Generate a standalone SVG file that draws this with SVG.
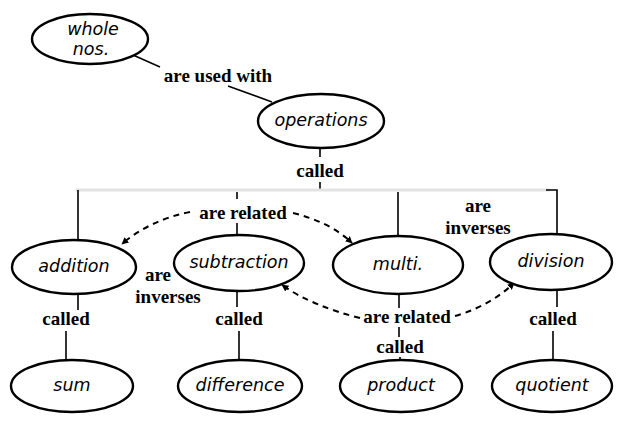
<svg xmlns="http://www.w3.org/2000/svg" width="618" height="421" viewBox="0 0 618 421">
<style>
.node ellipse{fill:#fff;stroke:#000;stroke-width:2.4}
.node text{font-family:"DejaVu Sans","Liberation Sans",sans-serif;font-style:italic;font-size:17.5px;fill:#000;text-anchor:middle}
.lbl{font-family:"Liberation Serif","DejaVu Serif",serif;font-weight:bold;font-size:19px;fill:#000;text-anchor:middle}
.ln{stroke:#000;stroke-width:1.6;fill:none}
.faint{stroke:#e2e2e2;stroke-width:3;fill:none}
.dash{stroke:#000;stroke-width:2;fill:none;stroke-dasharray:6 5}
</style>
<defs>
<marker id="ah" viewBox="0 0 10 10" refX="9" refY="5" markerWidth="7" markerHeight="7" orient="auto" markerUnits="userSpaceOnUse">
<path d="M0,0 L10,5 L0,10 z" fill="#000"/>
</marker>
</defs>
<rect width="618" height="421" fill="#fff"/>
<g id="connectors">
<line class="ln" x1="133" y1="55" x2="160" y2="67"/>
<line class="ln" x1="228" y1="86" x2="272" y2="102"/>
<line class="ln" x1="320" y1="147" x2="320" y2="157"/>
<line class="ln" x1="320" y1="182" x2="320" y2="190"/>
<line class="faint" x1="76" y1="190" x2="550" y2="190"/>
<polyline class="ln" points="546,190 557,190 557,234"/>
<line class="ln" x1="78" y1="190" x2="78" y2="240"/>
<line class="ln" x1="237" y1="192" x2="237" y2="199"/>
<line class="ln" x1="237" y1="223" x2="237" y2="235"/>
<line class="ln" x1="398" y1="192" x2="398" y2="236"/>
<line class="ln" x1="78" y1="294" x2="78" y2="310"/>
<line class="ln" x1="66" y1="331" x2="66" y2="361"/>
<line class="ln" x1="237" y1="291" x2="237" y2="307"/>
<line class="ln" x1="239" y1="331" x2="239" y2="360"/>
<line class="ln" x1="399" y1="294" x2="399" y2="308"/>
<line class="ln" x1="399" y1="327" x2="399" y2="337"/>
<line class="ln" x1="400" y1="357" x2="400" y2="361"/>
<line class="ln" x1="557" y1="290" x2="557" y2="307"/>
<line class="ln" x1="553" y1="331" x2="553" y2="360"/>
<path class="dash" d="M190,212 Q150,220 122,244" marker-end="url(#ah)"/>
<path class="dash" d="M293,213 Q330,222 352,243" marker-end="url(#ah)"/>
<path class="dash" d="M360,318 Q312,306 282,285" marker-end="url(#ah)"/>
<path class="dash" d="M455,316 Q490,306 514,283" marker-end="url(#ah)"/>
<text class="lbl" x="218" y="82">are used with</text>
<text class="lbl" x="320" y="177">called</text>
<text class="lbl" x="243" y="219">are related</text>
<text class="lbl" x="478" y="212">are</text>
<text class="lbl" x="478" y="234">inverses</text>
<text class="lbl" x="158" y="281">are</text>
<text class="lbl" x="168" y="303">inverses</text>
<text class="lbl" x="66" y="325">called</text>
<text class="lbl" x="239" y="325">called</text>
<text class="lbl" x="407" y="323">are related</text>
<text class="lbl" x="400" y="353">called</text>
<text class="lbl" x="553" y="325">called</text>
</g>
<g id="whole" class="node"><ellipse cx="90" cy="39" rx="58" ry="25"/><text x="93" y="35">whole</text><text x="91" y="55">nos.</text></g>
<g id="operations" class="node"><ellipse cx="321" cy="121" rx="63" ry="27"/><text x="321" y="126">operations</text></g>
<g id="addition" class="node"><ellipse cx="74" cy="267" rx="62" ry="27"/><text x="74" y="272">addition</text></g>
<g id="subtraction" class="node"><ellipse cx="239" cy="263" rx="65" ry="28"/><text x="239" y="268">subtraction</text></g>
<g id="multi" class="node"><ellipse cx="398" cy="265" rx="65" ry="29"/><text x="398" y="270">multi.</text></g>
<g id="division" class="node"><ellipse cx="551" cy="262" rx="61" ry="28"/><text x="551" y="267">division</text></g>
<g id="sum" class="node"><ellipse cx="72" cy="386" rx="61" ry="26"/><text x="72" y="391">sum</text></g>
<g id="difference" class="node"><ellipse cx="240" cy="386" rx="62" ry="26"/><text x="240" y="391">difference</text></g>
<g id="product" class="node"><ellipse cx="401" cy="386" rx="61" ry="26"/><text x="401" y="391">product</text></g>
<g id="quotient" class="node"><ellipse cx="552" cy="386" rx="60" ry="26"/><text x="552" y="391">quotient</text></g>
</svg>
